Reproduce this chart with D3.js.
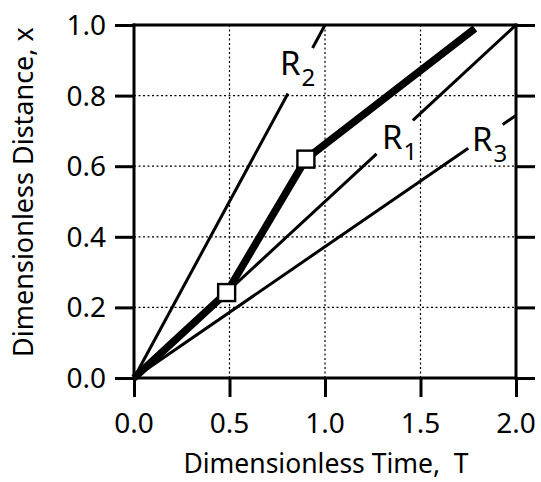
<!DOCTYPE html>
<html><head><meta charset="utf-8">
<script src="https://cdn.jsdelivr.net/npm/d3@7"></script>
<style>
html,body{margin:0;padding:0;background:#fff;}
svg{display:block;}
text{font-family:"Noto Sans","Open Sans",sans-serif;fill:#000;}
</style></head>
<body>
<svg id="c" width="541" height="482"></svg>
<script>
// ---- data ----
const xTicks = [0, 0.5, 1.0, 1.5, 2.0];
const yTicks = [0, 0.2, 0.4, 0.6, 0.8, 1.0];
const xTickLabels = ["0.0", "0.5", "1.0", "1.5", "2.0"];
const yTickLabels = ["0.0", "0.2", "0.4", "0.6", "0.8", "1.0"];
const rayNames = ["1", "2", "3"];
const raySlopes = [0.5, 1.0, 0.372];
// drawn T-intervals of each ray (gaps leave room for labels)
const raySegments = [
  [[0, 1.27], [1.46, 2.0]],
  [[0, 0.806], [0.935, 1.0]],
  [[0, 1.75], [1.93, 2.0]]
];
const rayLabelT = [1.298, 0.764, 1.77];
const rayLabelX = [0.649, 0.858, 0.643];
const pathT = [0, 0.485, 0.9, 1.785];
const pathX = [0, 0.242, 0.62, 0.99];
const markerIdx = [1, 2];
const xTitle = "Dimensionless Time,\u00a0\u00a0T";
const yTitle = "Dimensionless Distance, x";

// ---- layout ----
const svg = d3.select("#c");
const x = d3.scaleLinear().domain([0, 2]).range([134, 516]);
const y = d3.scaleLinear().domain([0, 1]).range([378, 25]);
const tickLen = 19, axisW = 3;

// grid
const g = svg.append("g");
g.selectAll("line.gx").data(xTicks.slice(1, -1)).join("line")
  .attr("x1", d => x(d)).attr("x2", d => x(d)).attr("y1", y(0)).attr("y2", y(1))
  .attr("stroke", "#000").attr("stroke-width", 1.2).attr("stroke-dasharray", "2,2.5");
g.selectAll("line.gy").data(yTicks.slice(1, -1)).join("line")
  .attr("x1", x(0)).attr("x2", x(2)).attr("y1", d => y(d)).attr("y2", d => y(d))
  .attr("stroke", "#000").attr("stroke-width", 1.2).attr("stroke-dasharray", "2,2.5");

// axes via d3 axis generators
function styleAxis(sel) {
  sel.select(".domain").remove();
  sel.selectAll(".tick line").attr("stroke", "#000").attr("stroke-width", axisW);
  sel.selectAll(".tick text").remove();
}
svg.append("g").attr("transform", `translate(${x(0)},0)`)
  .call(d3.axisLeft(y).tickValues(yTicks).tickSize(tickLen)).call(styleAxis);
svg.append("g").attr("transform", `translate(${x(2)},0)`)
  .call(d3.axisRight(y).tickValues(yTicks).tickSize(tickLen)).call(styleAxis);
svg.append("g").attr("transform", `translate(0,${y(0)})`)
  .call(d3.axisBottom(x).tickValues(xTicks).tickSize(tickLen)).call(styleAxis);
// frame
const frame = svg.append("g").attr("stroke", "#000").attr("stroke-width", axisW).attr("stroke-linecap", "square");
frame.append("line").attr("x1", x(0)).attr("x2", x(0)).attr("y1", y(1)).attr("y2", y(0));
frame.append("line").attr("x1", x(2)).attr("x2", x(2)).attr("y1", y(1)).attr("y2", y(0));
frame.append("line").attr("x1", x(0)).attr("x2", x(2)).attr("y1", y(1)).attr("y2", y(1));
frame.append("line").attr("x1", x(0)).attr("x2", x(2)).attr("y1", y(0)).attr("y2", y(0));

// tick labels
svg.append("g").selectAll("text").data(yTicks).join("text")
  .attr("x", x(0) - 28).attr("y", d => y(d)).attr("dy", "0.36em")
  .attr("text-anchor", "end").attr("font-size", 28).text((d, i) => yTickLabels[i]);
svg.append("g").selectAll("text").data(xTicks).join("text")
  .attr("x", d => x(d)).attr("y", 433)
  .attr("text-anchor", "middle").attr("font-size", 28).text((d, i) => xTickLabels[i]);

// titles
svg.append("text").attr("x", 326).attr("y", 473).attr("text-anchor", "middle")
  .attr("font-size", 26.5).text(xTitle);
svg.append("text").attr("transform", "translate(33,192) rotate(-90)").attr("text-anchor", "middle")
  .attr("font-size", 27).text(yTitle);

// rays
const rays = svg.append("g").attr("stroke", "#000").attr("stroke-width", 3).attr("fill", "none");
raySegments.forEach((segs, i) => {
  segs.forEach(s => {
    rays.append("line")
      .attr("x1", x(s[0])).attr("y1", y(s[0] * raySlopes[i]))
      .attr("x2", x(s[1])).attr("y2", y(s[1] * raySlopes[i]));
  });
});

// thick path
const pts = pathT.map((t, i) => [t, pathX[i]]);
svg.append("path").attr("d", d3.line().x(d => x(d[0])).y(d => y(d[1]))(pts))
  .attr("fill", "none").attr("stroke", "#000").attr("stroke-width", 7.5)
  .attr("stroke-linejoin", "miter");
const sq = 17;
svg.append("g").selectAll("rect").data(markerIdx).join("rect")
  .attr("x", i => x(pathT[i]) - sq / 2).attr("y", i => y(pathX[i]) - sq / 2)
  .attr("width", sq).attr("height", sq)
  .attr("fill", "#fff").attr("stroke", "#000").attr("stroke-width", 2.4);

// ray labels
rayNames.forEach((n, i) => {
  const t = svg.append("text").attr("x", x(rayLabelT[i])).attr("y", y(rayLabelX[i]))
    .attr("font-size", 33);
  t.append("tspan").text("R");
  t.append("tspan").attr("font-size", 24).attr("dy", 11).attr("dx", 1).text(n);
});
</script>
</body></html>
